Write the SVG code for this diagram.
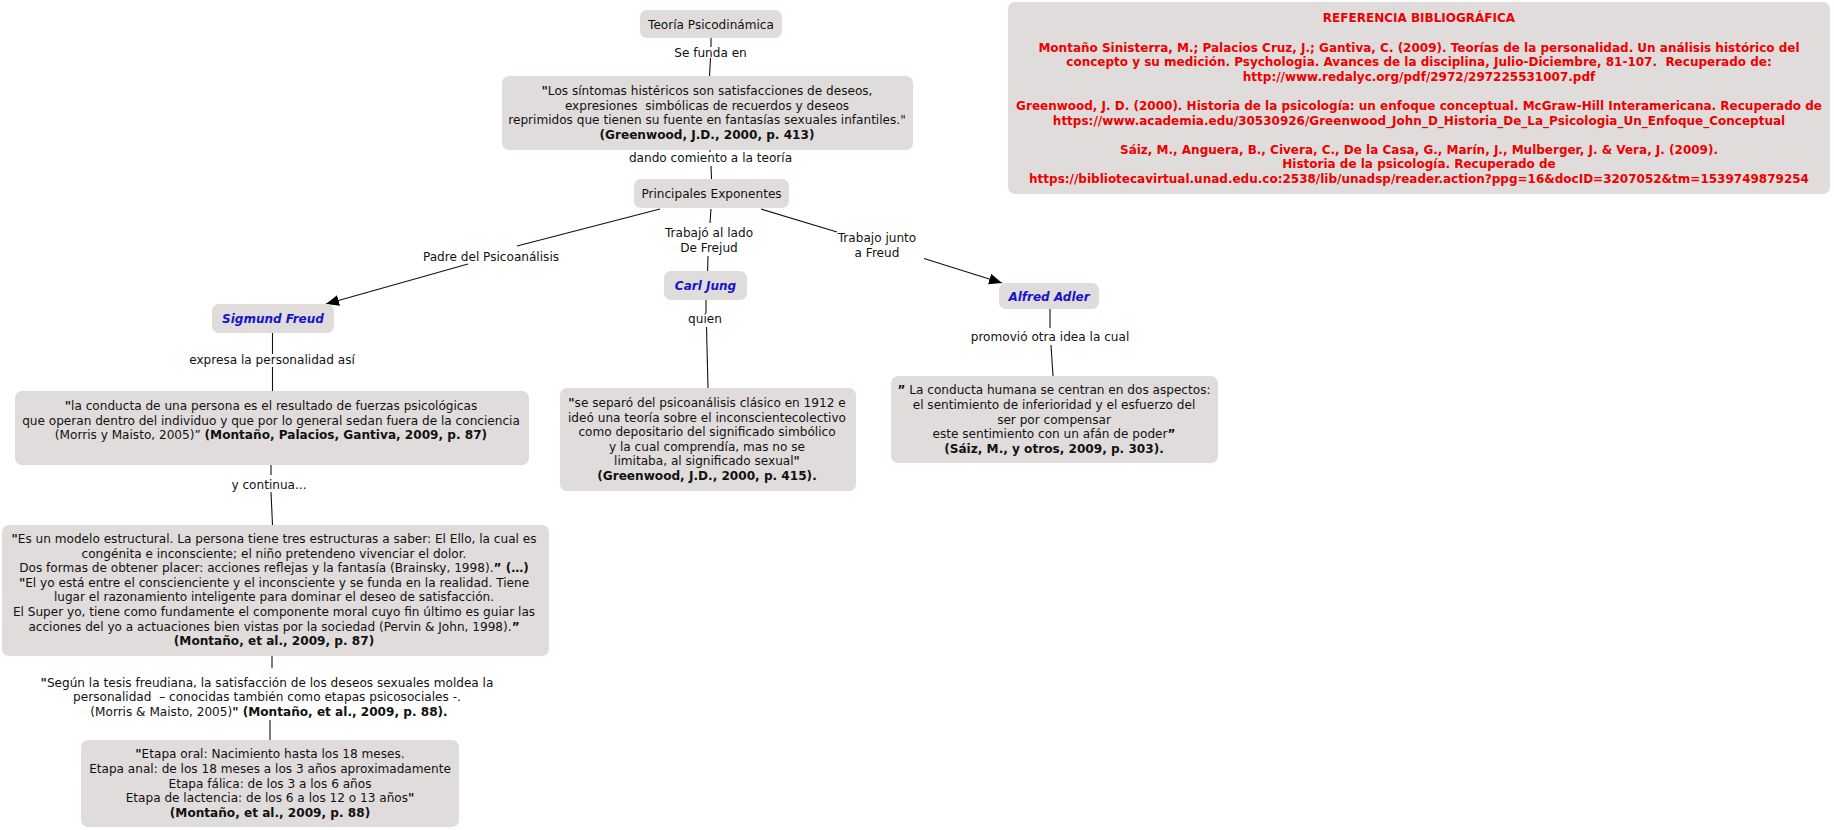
<svg xmlns="http://www.w3.org/2000/svg" width="1834" height="830" viewBox="0 0 1834 830">
<style>
.n rect{fill:#e0dcdc}
text{font-family:"DejaVu Sans",Verdana,sans-serif;font-size:12.1px;fill:#111;text-anchor:middle}
.b{font-weight:bold}
.bl{fill:#1414c8;font-weight:bold;font-style:italic;font-size:12px}
.rd{fill:#ee0000;font-weight:bold;font-size:12px}
.c line{stroke:#111;stroke-width:1.1;fill:none}
</style>
<defs>
<marker id="arr" markerUnits="userSpaceOnUse" markerWidth="14" markerHeight="12" refX="13" refY="5.5" orient="auto">
<path d="M0,0 L13,5.5 L0,11 z" fill="#000"/>
</marker>
</defs>
<rect width="1834" height="830" fill="#fff"/>

<g id="connectors" class="c">
<line x1="711" y1="38" x2="711" y2="47"/>
<line x1="710.5" y1="58" x2="709.5" y2="76"/>
<line x1="710" y1="150" x2="710" y2="152"/>
<line x1="711" y1="166" x2="711.5" y2="179"/>
<line x1="660" y1="209" x2="517" y2="246"/>
<line x1="468" y1="264" x2="326" y2="304" marker-end="url(#arr)"/>
<line x1="711" y1="209" x2="710" y2="223"/>
<line x1="708" y1="256" x2="707.6" y2="271"/>
<line x1="761" y1="209" x2="837" y2="232"/>
<line x1="924" y1="258.5" x2="1002" y2="283" marker-end="url(#arr)"/>
<line x1="272.5" y1="333" x2="272.5" y2="354"/>
<line x1="272.5" y1="367" x2="272.5" y2="391"/>
<line x1="706" y1="300" x2="706" y2="313"/>
<line x1="706.5" y1="327" x2="708" y2="388"/>
<line x1="1050" y1="309" x2="1050" y2="328"/>
<line x1="1051" y1="345" x2="1053" y2="376"/>
<line x1="271" y1="465" x2="271" y2="475"/>
<line x1="271" y1="492" x2="272.5" y2="525"/>
<line x1="272" y1="656" x2="272" y2="668"/>
<line x1="270" y1="720" x2="270" y2="740"/>
</g>

<g id="labels">
<text x="710.5" y="57">Se funda en</text>
<text x="710.5" y="162">dando comiento a la teoría</text>
<text x="491" y="261">Padre del Psicoanálisis</text>
<text x="709" y="237">Trabajó al lado</text>
<text x="709" y="251.5">De Frejud</text>
<text x="877" y="242">Trabajo junto</text>
<text x="877" y="256.5">a Freud</text>
<text x="272" y="364">expresa la personalidad así</text>
<text x="705" y="323">quien</text>
<text x="1050" y="341">promovió otra idea la cual</text>
<text x="269" y="489">y continua...</text>
<text x="267" y="686.7"><tspan class="b">"</tspan>Según la tesis freudiana, la satisfacción de los deseos sexuales moldea la</text>
<text x="267" y="701.3">personalidad &#160;– conocidas también como etapas psicosociales -.</text>
<text x="269" y="716">(Morris &amp; Maisto, 2005)<tspan class="b">" (Montaño, et al., 2009, p. 88).</tspan></text>
</g>

<g id="teoria" class="n">
<rect x="640" y="10" width="142" height="28" rx="7"/>
<text x="711" y="28.5">Teoría Psicodinámica</text>
</g>

<g id="sintomas" class="n">
<rect x="502" y="76" width="411" height="74" rx="7"/>
<text x="707" y="95"><tspan class="b">"</tspan>Los síntomas histéricos son satisfacciones de deseos,</text>
<text x="707" y="109.5">expresiones &#160;simbólicas de recuerdos y deseos</text>
<text x="707" y="124">reprimidos que tienen su fuente en fantasías sexuales infantiles."</text>
<text x="707" y="139" class="b">(Greenwood, J.D., 2000, p. 413)</text>
</g>

<g id="exponentes" class="n">
<rect x="634" y="179" width="155" height="29" rx="7"/>
<text x="711.5" y="197.5">Principales Exponentes</text>
</g>

<g id="freud" class="n">
<rect x="212" y="304" width="122" height="29" rx="7"/>
<text x="273" y="322.5" class="bl">Sigmund Freud</text>
</g>

<g id="jung" class="n">
<rect x="664" y="271" width="83" height="29" rx="7"/>
<text x="705.5" y="289.5" class="bl">Carl Jung</text>
</g>

<g id="adler" class="n">
<rect x="999" y="283" width="100" height="26" rx="7"/>
<text x="1049" y="300.5" class="bl">Alfred Adler</text>
</g>

<g id="freud-quote" class="n">
<rect x="15" y="391" width="514" height="74" rx="7"/>
<text x="271" y="410"><tspan class="b">"</tspan>la conducta de una persona es el resultado de fuerzas psicológicas</text>
<text x="271" y="424.7">que operan dentro del individuo y que por lo general sedan fuera de la conciencia</text>
<text x="271" y="439">(Morris y Maisto, 2005)” <tspan class="b">(Montaño, Palacios, Gantiva, 2009, p. 87)</tspan></text>
</g>

<g id="jung-quote" class="n">
<rect x="560" y="388" width="296" height="103" rx="7"/>
<text x="707" y="407"><tspan class="b">"</tspan>se separó del psicoanálisis clásico en 1912 e</text>
<text x="707" y="421.5">ideó una teoría sobre el inconscientecolectivo</text>
<text x="707" y="436">como depositario del significado simbólico</text>
<text x="707" y="450.6">y la cual comprendía, mas no se</text>
<text x="707" y="465.2">limitaba, al significado sexual<tspan class="b">"</tspan></text>
<text x="707" y="479.8" class="b">(Greenwood, J.D., 2000, p. 415).</text>
</g>

<g id="adler-quote" class="n">
<rect x="891" y="376" width="327" height="87" rx="7"/>
<text x="1054" y="394"><tspan class="b">”</tspan> La conducta humana se centran en dos aspectos:</text>
<text x="1054" y="409">el sentimiento de inferioridad y el esfuerzo del</text>
<text x="1054" y="423.6">ser por compensar</text>
<text x="1054" y="438.2">este sentimiento con un afán de poder<tspan class="b">”</tspan></text>
<text x="1054" y="452.8" class="b">(Sáiz, M., y otros, 2009, p. 303).</text>
</g>

<g id="ello" class="n">
<rect x="2" y="525" width="547" height="131" rx="7"/>
<text x="274" y="543"><tspan class="b">"</tspan>Es un modelo estructural. La persona tiene tres estructuras a saber: El Ello, la cual es</text>
<text x="274" y="557.6">congénita e inconsciente; el niño pretendeno vivenciar el dolor.</text>
<text x="274" y="572.2">Dos formas de obtener placer: acciones reflejas y la fantasía (Brainsky, 1998).<tspan class="b">” (…)</tspan></text>
<text x="274" y="586.8"><tspan class="b">"</tspan>El yo está entre el conscienciente y el inconsciente y se funda en la realidad. Tiene</text>
<text x="274" y="601.4">lugar el razonamiento inteligente para dominar el deseo de satisfacción.</text>
<text x="274" y="616">El Super yo, tiene como fundamente el componente moral cuyo fin último es guiar las</text>
<text x="274" y="630.6">acciones del yo a actuaciones bien vistas por la sociedad (Pervin &amp; John, 1998).<tspan class="b">”</tspan></text>
<text x="274" y="645.2" class="b">(Montaño, et al., 2009, p. 87)</text>
</g>

<g id="etapas" class="n">
<rect x="81" y="740" width="378" height="87" rx="7"/>
<text x="270" y="758.3"><tspan class="b">"</tspan>Etapa oral: Nacimiento hasta los 18 meses.</text>
<text x="270" y="772.9">Etapa anal: de los 18 meses a los 3 años aproximadamente</text>
<text x="270" y="787.5">Etapa fálica: de los 3 a los 6 años</text>
<text x="270" y="802.1">Etapa de lactencia: de los 6 a los 12 o 13 años<tspan class="b">"</tspan></text>
<text x="270" y="816.7" class="b">(Montaño, et al., 2009, p. 88)</text>
</g>

<g id="referencias" class="n">
<rect x="1008" y="2" width="822" height="192" rx="7"/>
<text x="1419" y="22.3" class="rd">REFERENCIA BIBLIOGRÁFICA</text>
<text x="1419" y="51.5" class="rd">Montaño Sinisterra, M.; Palacios Cruz, J.; Gantiva, C. (2009). Teorías de la personalidad. Un análisis histórico del</text>
<text x="1419" y="66.1" class="rd">concepto y su medición. Psychologia. Avances de la disciplina, Julio-Diciembre, 81-107. &#160;Recuperado de:</text>
<text x="1419" y="80.7" class="rd">http://www.redalyc.org/pdf/2972/297225531007.pdf</text>
<text x="1419" y="109.9" class="rd">Greenwood, J. D. (2000). Historia de la psicología: un enfoque conceptual. McGraw-Hill Interamericana. Recuperado de</text>
<text x="1419" y="124.5" class="rd">https://www.academia.edu/30530926/Greenwood_John_D_Historia_De_La_Psicologia_Un_Enfoque_Conceptual</text>
<text x="1419" y="153.7" class="rd">Sáiz, M., Anguera, B., Civera, C., De la Casa, G., Marín, J., Mulberger, J. &amp; Vera, J. (2009).</text>
<text x="1419" y="168.3" class="rd">Historia de la psicología. Recuperado de</text>
<text x="1419" y="182.9" class="rd">https://bibliotecavirtual.unad.edu.co:2538/lib/unadsp/reader.action?ppg=16&amp;docID=3207052&amp;tm=1539749879254</text>
</g>
</svg>
